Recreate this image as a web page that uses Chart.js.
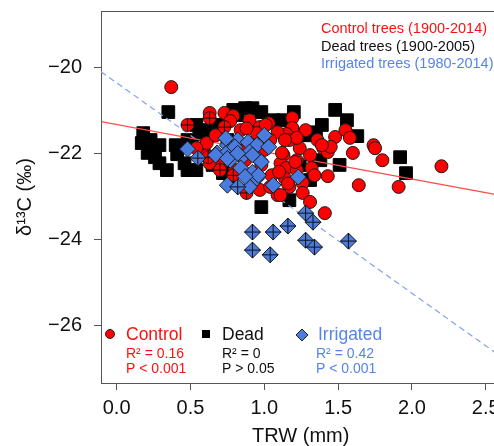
<!DOCTYPE html>
<html>
<head>
<meta charset="utf-8">
<script src="https://cdn.jsdelivr.net/npm/chart.js@4.4.1/dist/chart.umd.min.js"></script>
<style>
  html, body {margin: 0; padding: 0; background: #fff; overflow: hidden}
  #wrap {width: 520px; height: 446px}
</style>
</head>
<body>
<div id="wrap"><canvas id="c"></canvas></div>
<script>
const xTicks = [0, 0.5, 1, 1.5, 2, 2.5]
const yTicks = [-26, -24, -22, -20]
const xRange = [-0.106, 2.6]
const yRange = [-27.33, -18.68]

// control trees
const controlTRW = [0.37, 0.63, 0.73, 0.90, 0.97, 1.03, 1.19, 1.19, 1.15, 1.09, 0.95, 0.84, 0.79, 0.77, 1.48, 1.55, 1.58,
    1.40, 1.43, 1.24, 1.31, 1.22, 1.13, 1.11, 1.15, 1.22, 1.32, 1.43, 1.26, 1.17, 1.09, 1.26, 1.31, 1.41, 0.61, 0.70,
    0.97, 1.04, 1.74, 1.75, 1.60, 1.80, 2.20, 1.64, 1.91, 1.45, 0.61, 0.54, 0.63, 0.90, 1.12, 1.04, 0.67, 0.87, 0.80,
    0.98, 1.05, 1.36, 1.28, 0.84, 0.73, 1.17, 1.34, 1.14, 1.00, 1.22, 0.94, 1.01, 0.88, 1.14, 1.21, 1.10, 1.16, 1.11,
    1.39]
const controlD13C = [-20.45, -21.05, -21.05, -21.22, -21.38, -21.29, -21.17, -21.40, -21.54, -21.50, -21.52, -21.45,
    -21.12, -21.24, -21.61, -21.45, -21.63, -21.87, -21.96, -21.87, -22.03, -22.15, -22.03, -22.22, -22.33, -22.38,
    -22.33, -22.52, -22.68, -22.77, -22.96, -22.91, -23.12, -23.38, -22.03, -22.31, -22.84, -22.77, -21.80, -21.87,
    -21.98, -22.15, -22.29, -22.73, -22.77, -21.84, -21.75, -21.87, -22.22, -21.80, -21.98, -21.68, -21.57, -22.15,
    -22.38, -22.26, -22.50, -21.68, -21.45, -21.91, -22.10, -21.68, -22.50, -22.57, -21.91, -21.63, -22.50, -21.33,
    -21.41, -21.68, -22.19, -22.42, -22.69, -22.96, -21.80]
// control points drawn with a cross
const controlCrossTRW = [0.48, 0.63, 0.73, 0.62, 0.70, 0.88, 0.79]
const controlCrossD13C = [-21.33, -21.17, -21.38, -22.08, -22.38, -22.91, -22.50]

// dead trees
const deadTRW = [0.35, 0.18, 0.17, 0.21, 0.26, 0.29, 0.34, 0.41, 0.48, 0.54, 0.48, 0.54, 0.60, 0.56, 0.79, 0.87, 0.92,
    0.98, 1.06, 1.13, 0.82, 1.48, 1.56, 1.63, 1.35, 1.28, 1.92, 1.96, 0.98, 1.17, 0.72, 0.65, 0.77, 0.75, 0.69, 1.24,
    1.38, 1.51, 1.31, 1.39, 1.20, 0.40, 0.29, 0.46, 0.23]
const deadD13C = [-21.03, -21.52, -21.75, -21.98, -22.08, -22.22, -22.38, -22.01, -22.38, -22.38, -21.68, -21.33,
    -21.45, -21.57, -20.98, -20.94, -20.94, -21.03, -21.22, -21.22, -21.10, -20.98, -21.22, -21.59, -21.50, -21.57,
    -22.08, -22.45, -23.24, -23.08, -22.45, -22.26, -22.61, -21.68, -21.33, -22.26, -22.15, -22.26, -22.61, -21.33,
    -21.03, -21.80, -21.80, -22.22, -21.68]

// irrigated trees
const irrigatedTRW = [0.48, 1.00, 0.82, 0.75, 0.89, 0.95, 1.03, 0.68, 0.75, 0.77, 0.85, 0.90, 0.97, 0.84, 0.92, 0.95,
    1.06, 1.23, 0.75, 0.90, 0.80, 0.96, 0.74, 0.67, 0.75, 0.82, 0.92, 0.98, 0.87]
const irrigatedD13C = [-21.89, -21.57, -21.68, -21.80, -21.73, -21.80, -21.84, -21.98, -21.96, -22.15, -22.08, -21.96,
    -22.15, -22.33, -22.43, -22.57, -22.73, -22.54, -22.73, -22.77, -21.84, -22.50, -21.64, -22.03, -22.11, -21.99,
    -22.03, -22.19, -22.53]
const irrigatedCrossTRW = [0.55, 0.82, 0.92, 1.06, 1.16, 1.28, 1.33, 1.28, 1.34, 1.57, 0.92, 1.04]
const irrigatedCrossD13C = [-22.10, -22.77, -23.82, -23.82, -23.68, -23.38, -23.59, -24.01, -24.17, -24.03, -24.24, -24.35]

// regression lines: [intercept, slope]
const controlFit = [-21.32, -0.633]
const irrigatedFit = [-20.35, -2.446]

const periodLabels = ['Control trees (1900-2014)', 'Dead trees (1900-2005)', 'Irrigated trees (1980-2014)']
const groupNames = ['Control', 'Dead', 'Irrigated']
const groupR2 = ['R² = 0.16', 'R² = 0', 'R² = 0.42']
const groupP = ['P < 0.001', 'P > 0.05', 'P < 0.001']

const RED = '#FF0000'
const BLUE = '#4A7BDF'
const textColors = ['#FF1010', '#111111', '#5585E8']
const FONT = '"Liberation Sans", Arial, sans-serif'

const zip = (xs, ys) => xs.map((x, i) => ({x, y: ys[i]}))
const fitLine = f => xRange.map(x => ({x, y: f[0] + f[1] * x}))

const notes = {
    id: 'notes',
    afterDraw(chart) {
        const {ctx, chartArea: a} = chart
        ctx.save()
        ctx.strokeStyle = '#555'
        ctx.lineWidth = 1
        ctx.beginPath()
        ctx.moveTo(a.left, Math.round(a.top) + 0.5)
        ctx.lineTo(a.right, Math.round(a.top) + 0.5)
        ctx.lineTo(a.right, a.bottom)
        ctx.stroke()

        ctx.textBaseline = 'middle'
        ctx.textAlign = 'left'
        ctx.font = '14.5px ' + FONT
        periodLabels.forEach((t, i) => {
            ctx.fillStyle = textColors[i]
            ctx.fillText(t, 321, 29 + i * 17.5)
        })

        const markX = [110, 206, 302]
        const nameX = [126, 222, 318]
        const statX = [126, 222, 316]
        // markers
        ctx.strokeStyle = '#222'
        ctx.fillStyle = RED
        ctx.beginPath()
        ctx.arc(markX[0], 334, 4.5, 0, Math.PI * 2)
        ctx.fill(); ctx.stroke()
        ctx.fillStyle = '#000'
        ctx.fillRect(markX[1] - 4, 330, 8, 8)
        ctx.fillStyle = BLUE
        ctx.beginPath()
        ctx.moveTo(markX[2] - 6, 335); ctx.lineTo(markX[2], 329)
        ctx.lineTo(markX[2] + 6, 335); ctx.lineTo(markX[2], 341)
        ctx.closePath()
        ctx.fill(); ctx.stroke()

        groupNames.forEach((t, i) => {
            ctx.fillStyle = textColors[i]
            ctx.font = '17.5px ' + FONT
            ctx.fillText(t, nameX[i], 335)
            ctx.font = '14px ' + FONT
            ctx.fillText(groupR2[i], statX[i], 354)
            ctx.fillText(groupP[i], statX[i], 369.5)
        })
        ctx.restore()
    }
}

Chart.defaults.font.family = FONT
Chart.defaults.color = '#111'

new Chart(document.getElementById('c'), {
    type: 'scatter',
    data: {
        datasets: [
            {
                data: zip(irrigatedCrossTRW, irrigatedCrossD13C), order: 0,
                pointStyle: 'cross', pointRadius: 8, borderColor: '#111', borderWidth: 1
            },
            {
                data: zip(irrigatedTRW.concat(irrigatedCrossTRW), irrigatedD13C.concat(irrigatedCrossD13C)), order: 1,
                pointStyle: 'rectRot', pointRadius: 8, backgroundColor: BLUE, borderColor: '#1a1a1a', borderWidth: 1
            },
            {
                data: zip(controlCrossTRW, controlCrossD13C), order: 2,
                pointStyle: 'cross', pointRadius: 6.5, borderColor: '#111', borderWidth: 1
            },
            {
                data: zip(controlTRW.concat(controlCrossTRW), controlD13C.concat(controlCrossD13C)), order: 3,
                pointStyle: 'circle', pointRadius: 6.5, backgroundColor: RED, borderColor: '#1a1a1a', borderWidth: 1
            },
            {
                data: fitLine(controlFit), order: 4, showLine: true, pointRadius: 0,
                borderColor: '#FF4a4a', borderWidth: 1.2
            },
            {
                data: fitLine(irrigatedFit), order: 4, showLine: true, pointRadius: 0,
                borderColor: '#7FA2EC', borderWidth: 1.2, borderDash: [6, 4]
            },
            {
                data: zip(deadTRW, deadD13C), order: 5,
                pointStyle: 'rect', pointRadius: 9, backgroundColor: '#000', borderColor: '#000', borderWidth: 1
            },
        ]
    },
    options: {
        responsive: true,
        maintainAspectRatio: false,
        animation: false,
        events: [],
        layout: {padding: {top: 11, right: 19.5, left: 0, bottom: 0}},
        plugins: {legend: {display: false}, tooltip: {enabled: false}},
        scales: {
            x: {
                type: 'linear', min: xRange[0], max: xRange[1],
                afterBuildTicks: s => { s.ticks = xTicks.map(value => ({value})) },
                afterFit: s => { s.height = 63; s.paddingLeft = 0; s.paddingRight = 0 },
                grid: {drawOnChartArea: false, tickLength: 7, color: '#555'},
                border: {color: '#555'},
                ticks: {font: {size: 20}, color: '#111', padding: 6, maxRotation: 0, autoSkip: false,
                    callback: v => v.toFixed(1)},
                title: {display: true, text: 'TRW (mm)', font: {size: 20, lineHeight: 1}, color: '#111', padding: 0}
            },
            y: {
                type: 'linear', min: yRange[0], max: yRange[1],
                afterBuildTicks: s => { s.ticks = yTicks.map(value => ({value})) },
                afterFit: s => { s.width = 101; s.paddingTop = 0; s.paddingBottom = 0 },
                grid: {drawOnChartArea: false, tickLength: 7, color: '#555'},
                border: {color: '#555'},
                ticks: {font: {size: 20}, color: '#111', padding: 12, autoSkip: false,
                    callback: v => '\u2212' + Math.abs(v)},
                title: {display: true, text: 'δ¹³C (‰)', font: {size: 20, lineHeight: 1}, color: '#111',
                    padding: {top: 15, bottom: 0}}
            }
        }
    },
    plugins: [notes]
})
</script>
</body>
</html>
